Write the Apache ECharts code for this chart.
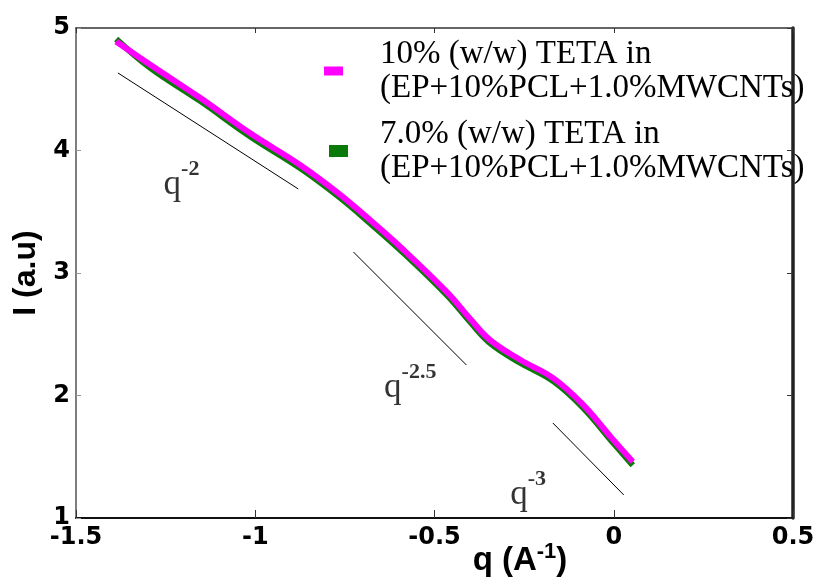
<!DOCTYPE html>
<html><head><meta charset="utf-8">
<script src="https://cdn.jsdelivr.net/npm/echarts@6/dist/echarts.min.js"></script>
<style>html,body{margin:0;padding:0;background:#fff}#c{width:819px;height:580px}</style>
</head><body><div id="c"></div>
<script>
// q values (A^-1) along the curves
const qValues = [-1.388, -1.293, -1.154, -1.014, -0.874, -0.768, -0.679, -0.587, -0.464, -0.399, -0.344, -0.260, -0.168, -0.084, -0.008, 0.053];
// 10% (w/w) TETA
const intensity10 = [4.89, 4.70, 4.43, 4.14, 3.88, 3.65, 3.43, 3.19, 2.84, 2.62, 2.45, 2.29, 2.14, 1.92, 1.66, 1.46];
// 7.0% (w/w) TETA
const intensity7 = [4.91, 4.675, 4.405, 4.115, 3.855, 3.625, 3.405, 3.165, 2.815, 2.595, 2.425, 2.265, 2.115, 1.895, 1.635, 1.43];
// power-law guide lines
const slopeQ2 = [[-1.383, 4.633], [-0.880, 3.686]];
const slopeQ25 = [[-0.726, 3.171], [-0.411, 2.249]];
const slopeQ3 = [[-0.170, 1.776], [0.028, 1.188]];
// guide labels: [q, I, exponent]
const slopeLabels = [[-1.257, 3.76, '-2'], [-0.642, 2.10, '-2.5'], [-0.290, 1.23, '-3']];
const xTickLabels = ['-1.5', '-1', '-0.5', '0', '0.5'];
const yTickLabels = ['1', '2', '3', '4', '5'];
const seriesNames = ['10% (w/w) TETA in\n(EP+10%PCL+1.0%MWCNTs)', '7.0% (w/w) TETA in\n(EP+10%PCL+1.0%MWCNTs)'];
const seriesColors = ['#ff00ff', '#0b7a0b'];

const zip = (xs, ys) => xs.map((x, i) => [x, ys[i]]);
const tickFont = {fontFamily: 'DejaVu Sans', fontWeight: 'bold', fontSize: 24, color: '#000'};

const chart = echarts.init(document.getElementById('c'), null, {renderer: 'canvas'});
const legendText = (pl) => ({fontFamily: 'Liberation Serif', fontSize: 33, lineHeight: 34, color: '#000', padding: [34, 0, 0, pl]});
chart.setOption({
  animation: false,
  backgroundColor: '#fff',
  grid: {left: 76, right: 26, top: 28, bottom: 62, containLabel: false, outerBoundsMode: 'none'},
  legend: [
    {data: [seriesNames[0]], left: 324, top: 20, orient: 'vertical', padding: 0, icon: 'rect', itemWidth: 19, itemHeight: 9,
     selectedMode: false, itemStyle: {borderWidth: 0}, textStyle: legendText(32)},
    {data: [seriesNames[1]], left: 329, top: 100, orient: 'vertical', padding: 0, icon: 'rect', itemWidth: 19, itemHeight: 12,
     selectedMode: false, itemStyle: {borderWidth: 0}, textStyle: legendText(27)}
  ],
  xAxis: [
    {type: 'value', min: -1.5, max: 0.5, interval: 0.5, position: 'bottom',
     axisLine: {onZero: false, lineStyle: {color: '#111', width: 2}},
     axisTick: {inside: true, length: 8, lineStyle: {color: '#333', width: 1}},
     axisLabel: Object.assign({margin: 8, formatter: v => xTickLabels[Math.round((v + 1.5) / 0.5)]}, tickFont),
     splitLine: {show: false},
     name: '{a|q (A}{b|-1}{a|)}', nameLocation: 'middle', nameGap: 23, nameMoveOverlap: false,
     nameTextStyle: {padding: [0, 0, 0, 171], rich: {
       a: {fontFamily: 'Liberation Sans', fontWeight: 'bold', fontSize: 33, lineHeight: 36, color: '#000', verticalAlign: 'bottom'},
       b: {fontFamily: 'Liberation Sans', fontWeight: 'bold', fontSize: 22, lineHeight: 22, color: '#000', verticalAlign: 'top', padding: [0, 0, 24, 0]}
     }}},
    {type: 'value', min: -1.5, max: 0.5, interval: 0.5, position: 'top',
     axisLine: {onZero: false, lineStyle: {color: '#333', width: 1.5}},
     axisTick: {inside: true, length: 5, lineStyle: {color: '#333'}},
     axisLabel: {show: false}, splitLine: {show: false}}
  ],
  yAxis: [
    {type: 'value', min: 1, max: 5, interval: 1, position: 'left',
     axisLine: {show: true, onZero: false, lineStyle: {color: '#555', width: 1.5}},
     axisTick: {show: true, inside: true, length: 5, lineStyle: {color: '#999'}},
     axisLabel: Object.assign({margin: 6, formatter: v => yTickLabels[Math.round(v - 1)]}, tickFont),
     splitLine: {show: false},
     name: 'I (a.u)', nameLocation: 'middle', nameGap: 34, nameMoveOverlap: false,
     nameTextStyle: {fontFamily: 'Liberation Sans', fontWeight: 'bold', fontSize: 32, color: '#000'}},
    {type: 'value', min: 1, max: 5, interval: 1, position: 'right',
     axisLine: {show: true, onZero: false, lineStyle: {color: '#222', width: 3.5}},
     axisTick: {show: true, inside: true, length: 6, lineStyle: {color: '#333'}},
     axisLabel: {show: false}, splitLine: {show: false}}
  ],
  series: [
    {name: seriesNames[1], type: 'line', data: zip(qValues, intensity7), smooth: 0.4, showSymbol: false,
     lineStyle: {color: seriesColors[1], width: 6}, itemStyle: {color: seriesColors[1]}, z: 3},
    {name: seriesNames[0], type: 'line', data: zip(qValues, intensity10), smooth: 0.4, showSymbol: false,
     lineStyle: {color: seriesColors[0], width: 6}, itemStyle: {color: seriesColors[0]}, z: 4},
    {type: 'line', data: slopeQ2, showSymbol: false, lineStyle: {color: '#000', width: 1}, z: 2},
    {type: 'line', data: slopeQ25, showSymbol: false, lineStyle: {color: '#000', width: 1}, z: 2},
    {type: 'line', data: slopeQ3, showSymbol: false, lineStyle: {color: '#000', width: 1}, z: 2},
    {type: 'scatter', data: slopeLabels, symbolSize: 1, itemStyle: {color: 'rgba(0,0,0,0)'}, z: 5,
     label: {show: true, position: 'right', distance: 0,
       formatter: p => '{q|q}{s|' + p.data[2] + '}',
       rich: {
         q: {fontFamily: 'Liberation Serif', fontSize: 35, lineHeight: 44, color: '#000', verticalAlign: 'bottom'},
         s: {fontFamily: 'Liberation Serif', fontWeight: 'bold', fontSize: 22, lineHeight: 22, color: '#000', verticalAlign: 'top'}
       }}}
  ]
});
</script></body></html>
